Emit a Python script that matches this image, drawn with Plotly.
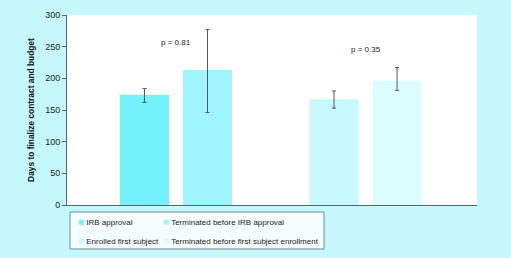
import plotly.graph_objects as go

milestones = ["IRB approval", "First subject enrollment"]
series_names = ["IRB approval", "Terminated before IRB approval",
                "Enrolled first subject", "Terminated before first subject enrollment"]
series_group = ["IRB approval", "IRB approval",
                "First subject enrollment", "First subject enrollment"]
days = [174, 213, 167, 196]
err_plus = [10, 64, 13, 21]
err_minus = [12, 67, 14, 15]
p_labels = ["p = 0.81", "p = 0.35"]
p_label_y = [256, 246]

colors = ["#74f1fc", "#9ff5fd", "#c6f8fd", "#dcfdfd"]
offsetgroups = ["a", "b", "a", "b"]
legend_ids = ["legend", "legend2", "legend", "legend2"]

fig = go.Figure()
for i in range(4):
    fig.add_trace(go.Bar(
        x=[series_group[i]], y=[days[i]], name=series_names[i],
        marker=dict(color=colors[i], line=dict(width=0)),
        offsetgroup=offsetgroups[i], showlegend=False,
        error_y=dict(type="data", symmetric=False, array=[err_plus[i]],
                     arrayminus=[err_minus[i]], color="#555555",
                     thickness=1, width=2),
    ))
# legend entries: small square key drawn as a coloured glyph in the entry text
for i in range(4):
    fig.add_trace(go.Scatter(
        x=[None], y=[None], mode="markers",
        name=f'<span style="color:{colors[i]};font-size:10px">■</span> {series_names[i]}',
        marker=dict(symbol="square", size=1, color="rgba(0,0,0,0)", line=dict(width=0)),
        legend=legend_ids[i], showlegend=True, hoverinfo="skip",
    ))

for m, t, yv in zip(milestones, p_labels, p_label_y):
    fig.add_annotation(x=m, y=yv, text=t, showarrow=False, xref="x", yref="y",
                       font=dict(size=8, color="#222222", family="Liberation Sans, Arial"))

fig.add_shape(type="rect", xref="paper", yref="paper",
              x0=(70 - 67) / 410, x1=(324 - 67) / 410,
              y0=-(249 - 205) / 190, y1=-(212 - 205) / 190,
              line=dict(color="#7a8a8e", width=1), fillcolor="#f4fefe", layer="below")

legend_common = dict(orientation="v", bgcolor="rgba(0,0,0,0)", borderwidth=0,
                     font=dict(size=8, color="#222222", family="Liberation Sans, Arial"),
                     yanchor="top", xanchor="left", tracegroupgap=0,
                     itemwidth=30, itemsizing="trace")
fig.update_layout(
    width=511, height=258,
    margin=dict(l=67, r=34, t=15, b=53, autoexpand=False),
    paper_bgcolor="#c4f8fc", plot_bgcolor="#ffffff",
    barmode="group", bargap=0.335, bargroupgap=0.222,
    font=dict(family="Liberation Sans, Arial", size=9, color="#222222"),
    showlegend=True,
    legend=dict(x=(38 - 67) / 410, y=-(207 - 205) / 190, **legend_common),
    legend2=dict(x=(123 - 67) / 410, y=-(207 - 205) / 190, **legend_common),
    xaxis=dict(type="category", categoryorder="array", categoryarray=milestones,
               range=[-0.575, 1.588], showticklabels=False, ticks="",
               showline=True, linecolor="#4f6a72", linewidth=1, showgrid=False,
               zeroline=False, fixedrange=True, automargin=False),
    yaxis=dict(range=[0, 300], dtick=50, ticks="outside", ticklen=4, tickwidth=1,
               tickcolor="#4f6a72", showline=True, linecolor="#4f6a72", linewidth=1,
               showgrid=False, zeroline=False, automargin=False,
               tickfont=dict(size=9, color="#222222"),
               title=dict(text="<b>Days to finalize contract and budget</b>",
                          font=dict(size=8.4, color="#111111"), standoff=9)),
)
fig.write_html("out.html", config={"displayModeBar": False},
               post_script="document.body.style.margin='0';document.body.style.overflow='hidden';")
